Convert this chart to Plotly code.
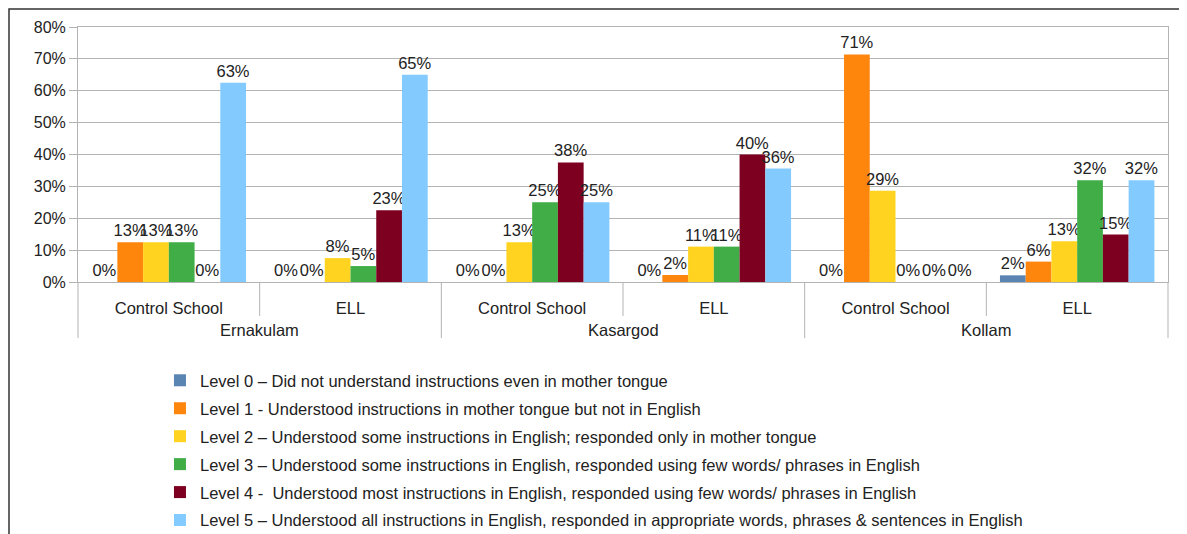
import plotly.graph_objects as go

# districts / school type
district_names = ['Ernakulam', 'Kasargod', 'Kollam']
districts = ['Ernakulam', 'Ernakulam', 'Kasargod', 'Kasargod', 'Kollam', 'Kollam']
schools = ['Control School', 'ELL', 'Control School', 'ELL', 'Control School', 'ELL']

level_names = [
    'Level 0 \u2013 Did not understand instructions even in mother tongue',
    'Level 1 - Understood instructions in mother tongue but not in English',
    'Level 2 \u2013 Understood some instructions in English; responded only in mother tongue',
    'Level 3 \u2013 Understood some instructions in English, responded using few words/ phrases in English',
    'Level 4 -  Understood most instructions in English, responded using few words/ phrases in English',
    'Level 5 \u2013 Understood all instructions in English, responded in appropriate words, phrases & sentences in English',
]

# percentages per level, in the order of the categories above
level0 = [0, 0, 0, 0, 0, 2.1]
level1 = [12.5, 0, 0, 2.2, 71.4, 6.4]
level2 = [12.5, 7.5, 12.5, 11.1, 28.6, 12.8]
level3 = [12.5, 5, 25, 11.1, 0, 31.9]
level4 = [0, 22.5, 37.5, 40, 0, 14.9]
level5 = [62.5, 65, 25, 35.6, 0, 31.9]

levels = [level0, level1, level2, level3, level4, level5]
colors = ['#5a84b2', '#ff860d', '#ffd320', '#41ad47', '#7e0021', '#83caff']

FONT = 'Liberation Sans'
GRID = '#b3b3b3'

# unique category keys, shown with the school name only
cats = [d + ' / ' + s for d, s in zip(districts, schools)]

fig = go.Figure()
for i, vals in enumerate(levels):
    fig.add_trace(go.Bar(
        x=cats, y=vals, name=level_names[i],
        marker=dict(color=colors[i], line=dict(width=0)),
        texttemplate='%{y:.0f}%', textposition='outside',
        textfont=dict(size=16.5, color='#222222', family=FONT),
        constraintext='none', cliponaxis=False,
        legendgroup='g%d' % i,
    ))

# category separators below the axis (short ones inside a district, long ones between)
n = len(cats)
shapes = []
for k in range(n + 1):
    depth = -0.22 if k % 2 == 0 else -0.133
    shapes.append(dict(type='line', xref='paper', yref='paper', x0=k / n, x1=k / n,
                       y0=0, y1=depth, line=dict(color=GRID, width=1)))
# outer frame of the picture
shapes.append(dict(type='rect', xref='paper', yref='paper', x0=-0.0633, x1=1.2,
                   y0=-1.2, y1=1.0706, line=dict(color='#333333', width=1.5)))

annotations = []
for g, name in enumerate(district_names):
    annotations.append(dict(text=name, xref='paper', yref='paper', x=(2 * g + 1) / n,
                            y=-0.188, xanchor='center', yanchor='middle', showarrow=False,
                            font=dict(size=16.5, family=FONT, color='#222222')))

# page body adds 8px offset, so the figure is 8px smaller and margins shifted
fig.update_layout(
    width=1179, height=526,
    margin=dict(l=70, r=19, t=19, b=252),
    plot_bgcolor='white', paper_bgcolor='white',
    font=dict(family=FONT, size=16.5, color='#222222'),
    barmode='group', bargap=0.15, bargroupgap=0,
    showlegend=True,
    legend=dict(xref='paper', yref='container', x=0.0752, y=0.325,
                xanchor='left', yanchor='top',
                font=dict(size=16.5, family=FONT, color='#222222'),
                tracegroupgap=3.5, bgcolor='rgba(0,0,0,0)'),
    shapes=shapes,
    annotations=annotations,
)
fig.update_yaxes(range=[0, 80], dtick=10, ticksuffix='%', showgrid=True, gridcolor=GRID,
                 showline=True, linecolor=GRID, mirror=True, ticks='outside', ticklen=8,
                 tickcolor=GRID, zeroline=False, tickfont=dict(size=16))
fig.update_xaxes(type='category', tickmode='array', tickvals=cats, ticktext=schools,
                 showline=True, linecolor=GRID, mirror=True, ticks='',
                 ticklabelstandoff=11, tickfont=dict(size=16.5))

fig.write_html('out.html')
